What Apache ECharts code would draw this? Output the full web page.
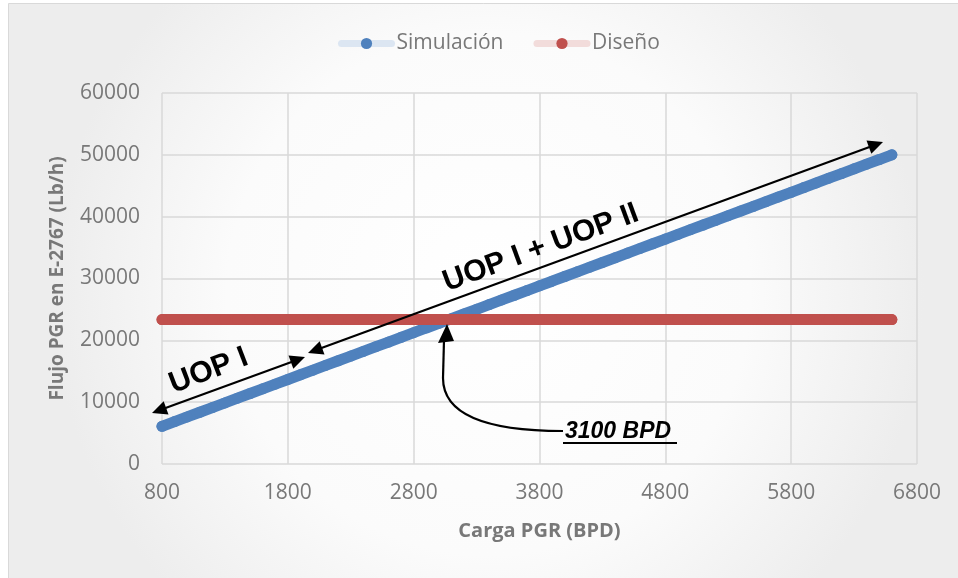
<!DOCTYPE html>
<html>
<head>
<meta charset="utf-8">
<script src="https://cdn.jsdelivr.net/npm/echarts@6/dist/echarts.min.js"></script>
<style>
  html, body { margin: 0; padding: 0; background: #fff; }
  #main { width: 958px; height: 578px; }
</style>
</head>
<body>
<div id="main"></div>
<script>
// Carga PGR (BPD)
const carga = [800, 900, 1000, 1100, 1200, 1300, 1400, 1500, 1600, 1700,
  1800, 1900, 2000, 2100, 2200, 2300, 2400, 2500, 2600, 2700,
  2800, 2900, 3000, 3100, 3200, 3300, 3400, 3500, 3600, 3700,
  3800, 3900, 4000, 4100, 4200, 4300, 4400, 4500, 4600, 4700,
  4800, 4900, 5000, 5100, 5200, 5300, 5400, 5500, 5600, 5700,
  5800, 5900, 6000, 6100, 6200, 6300, 6400, 6500, 6600];

// Flujo PGR simulado (Lb/h)
const simulacion = [6100, 6860, 7610, 8370, 9130, 9880, 10640, 11400, 12160, 12910,
  13670, 14430, 15180, 15940, 16700, 17450, 18210, 18970, 19720, 20480,
  21240, 22000, 22750, 23510, 24270, 25020, 25780, 26540, 27290, 28050,
  28810, 29560, 30320, 31080, 31830, 32590, 33350, 34110, 34860, 35620,
  36380, 37130, 37890, 38650, 39400, 40160, 40920, 41670, 42430, 43190,
  43940, 44700, 45460, 46220, 46970, 47730, 48490, 49240, 50000];

// Flujo de diseño (Lb/h)
const diseno = [23350, 23350, 23350, 23350, 23350, 23350, 23350, 23350, 23350, 23350,
  23350, 23350, 23350, 23350, 23350, 23350, 23350, 23350, 23350, 23350,
  23350, 23350, 23350, 23350, 23350, 23350, 23350, 23350, 23350, 23350,
  23350, 23350, 23350, 23350, 23350, 23350, 23350, 23350, 23350, 23350,
  23350, 23350, 23350, 23350, 23350, 23350, 23350, 23350, 23350, 23350,
  23350, 23350, 23350, 23350, 23350, 23350, 23350, 23350, 23350];

const BLUE = '#4f81bd';
const RED = '#c0504d';
const GRAY = '#787878';
const FONT = 'Open Sans';
const NOTE_FONT = '"Liberation Sans", Arial, sans-serif';

// flecha recta con punta(s)
function arrow(x1, y1, x2, y2, both) {
  const dx = x2 - x1, dy = y2 - y1;
  const len = Math.sqrt(dx * dx + dy * dy);
  const ux = dx / len, uy = dy / len, nx = -uy, ny = ux;
  const L = 15, W = 7;
  const head = (tx, ty, sx, sy) => ({
    type: 'polygon',
    z: 100,
    shape: { points: [[tx, ty],
      [tx - sx * L + nx * W, ty - sy * L + ny * W],
      [tx - sx * L - nx * W, ty - sy * L - ny * W]] },
    style: { fill: '#000' }
  });
  const out = [{
    type: 'line',
    z: 100,
    shape: { x1: x1 + (both ? ux * 10 : 0), y1: y1 + (both ? uy * 10 : 0), x2: x2 - ux * 10, y2: y2 - uy * 10 },
    style: { stroke: '#000', lineWidth: 2.2 }
  }, head(x2, y2, ux, uy)];
  if (both) out.push(head(x1, y1, -ux, -uy));
  return out;
}

const chart = echarts.init(document.getElementById('main'));

const option = {
  backgroundColor: '#ffffff',
  textStyle: { fontFamily: FONT },
  legend: {
    top: 28,
    left: 333,
    itemWidth: 50,
    itemHeight: 14,
    itemGap: 30,
    textStyle: { color: GRAY, fontSize: 21, fontFamily: FONT },
    data: [
      { name: 'Simulación', lineStyle: { color: '#dce6f2', width: 7 } },
      { name: 'Diseño', lineStyle: { color: '#f2dcdb', width: 7 } }
    ]
  },
  grid: { left: 162, right: 41, top: 93, bottom: 114 },
  xAxis: {
    type: 'value',
    min: 800, max: 6800, interval: 1000,
    name: 'Carga PGR (BPD)',
    nameLocation: 'middle',
    nameGap: 57,
    nameTextStyle: { color: GRAY, fontSize: 20, fontWeight: 'bold', fontFamily: FONT },
    axisLine: { show: false },
    axisTick: { show: false },
    axisLabel: { color: GRAY, fontSize: 21, margin: 19, fontFamily: FONT, formatter: v => String(v) },
    splitLine: { lineStyle: { color: '#d9d9d9', width: 1.5 } }
  },
  yAxis: {
    type: 'value',
    min: 0, max: 60000, interval: 10000,
    name: 'Flujo PGR en E-2767 (Lb/h)',
    nameLocation: 'middle',
    nameGap: 95,
    nameTextStyle: { color: GRAY, fontSize: 19, fontWeight: 'bold', fontFamily: FONT },
    axisLine: { show: false },
    axisTick: { show: false },
    axisLabel: { color: GRAY, fontSize: 21, margin: 22, fontFamily: FONT, formatter: v => String(v) },
    splitLine: { lineStyle: { color: '#d9d9d9', width: 1.5 } }
  },
  series: [
    {
      name: 'Simulación',
      type: 'line',
      data: carga.map((x, i) => [x, simulacion[i]]),
      symbol: 'circle',
      symbolSize: 11,
      itemStyle: { color: BLUE },
      lineStyle: { color: BLUE, width: 11, cap: 'round' },
      z: 3
    },
    {
      name: 'Diseño',
      type: 'line',
      data: carga.map((x, i) => [x, diseno[i]]),
      symbol: 'circle',
      symbolSize: 11,
      itemStyle: { color: RED },
      lineStyle: { color: RED, width: 11, cap: 'round' },
      z: 4
    }
  ],
  graphic: [
    {
      type: 'rect',
      z: -100,
      silent: true,
      shape: { x: 8.5, y: 3.5, width: 960, height: 580 },
      style: {
        fill: {
          type: 'radial', x: 0.5, y: 0.5, r: 0.75,
          colorStops: [{ offset: 0, color: '#ffffff' }, { offset: 0.6, color: '#fbfbfb' }, { offset: 1, color: '#ededed' }]
        },
        stroke: '#d9d9d9', lineWidth: 1
      }
    },
    ...arrow(152, 413, 305, 357, true),
    ...arrow(308, 353, 883, 142, true),
    {
      type: 'text',
      z: 100,
      x: 214, y: 385,
      rotation: 0.365,
      style: {
        text: 'UOP I', fill: '#000',
        font: 'bold 30px ' + NOTE_FONT,
        align: 'center', verticalAlign: 'bottom'
      }
    },
    {
      type: 'text',
      z: 100,
      x: 546, y: 262,
      rotation: 0.352,
      style: {
        text: 'UOP I + UOP II', fill: '#000',
        font: 'bold 30px ' + NOTE_FONT,
        align: 'center', verticalAlign: 'bottom'
      }
    },
    {
      type: 'bezierCurve',
      z: 100,
      shape: { x1: 563, y1: 431, cpx1: 480, cpy1: 431, cpx2: 443, cpy2: 412, x2: 443, y2: 378 },
      style: { stroke: '#000', lineWidth: 2.2, fill: null }
    },
    {
      type: 'line',
      z: 100,
      shape: { x1: 443, y1: 378, x2: 444, y2: 340 },
      style: { stroke: '#000', lineWidth: 2.2 }
    },
    {
      type: 'polygon',
      z: 100,
      shape: { points: [[447, 324], [438, 343], [454, 341]] },
      style: { fill: '#000' }
    },
    {
      type: 'text',
      z: 100,
      x: 565, y: 443,
      style: {
        text: '3100 BPD', fill: '#000',
        font: 'italic bold 23px ' + NOTE_FONT,
        align: 'left', verticalAlign: 'bottom'
      }
    },
    {
      type: 'line',
      z: 100,
      shape: { x1: 563, y1: 443, x2: 677, y2: 443 },
      style: { stroke: '#000', lineWidth: 2 }
    }
  ]
};

chart.setOption(option);
</script>
</body>
</html>
